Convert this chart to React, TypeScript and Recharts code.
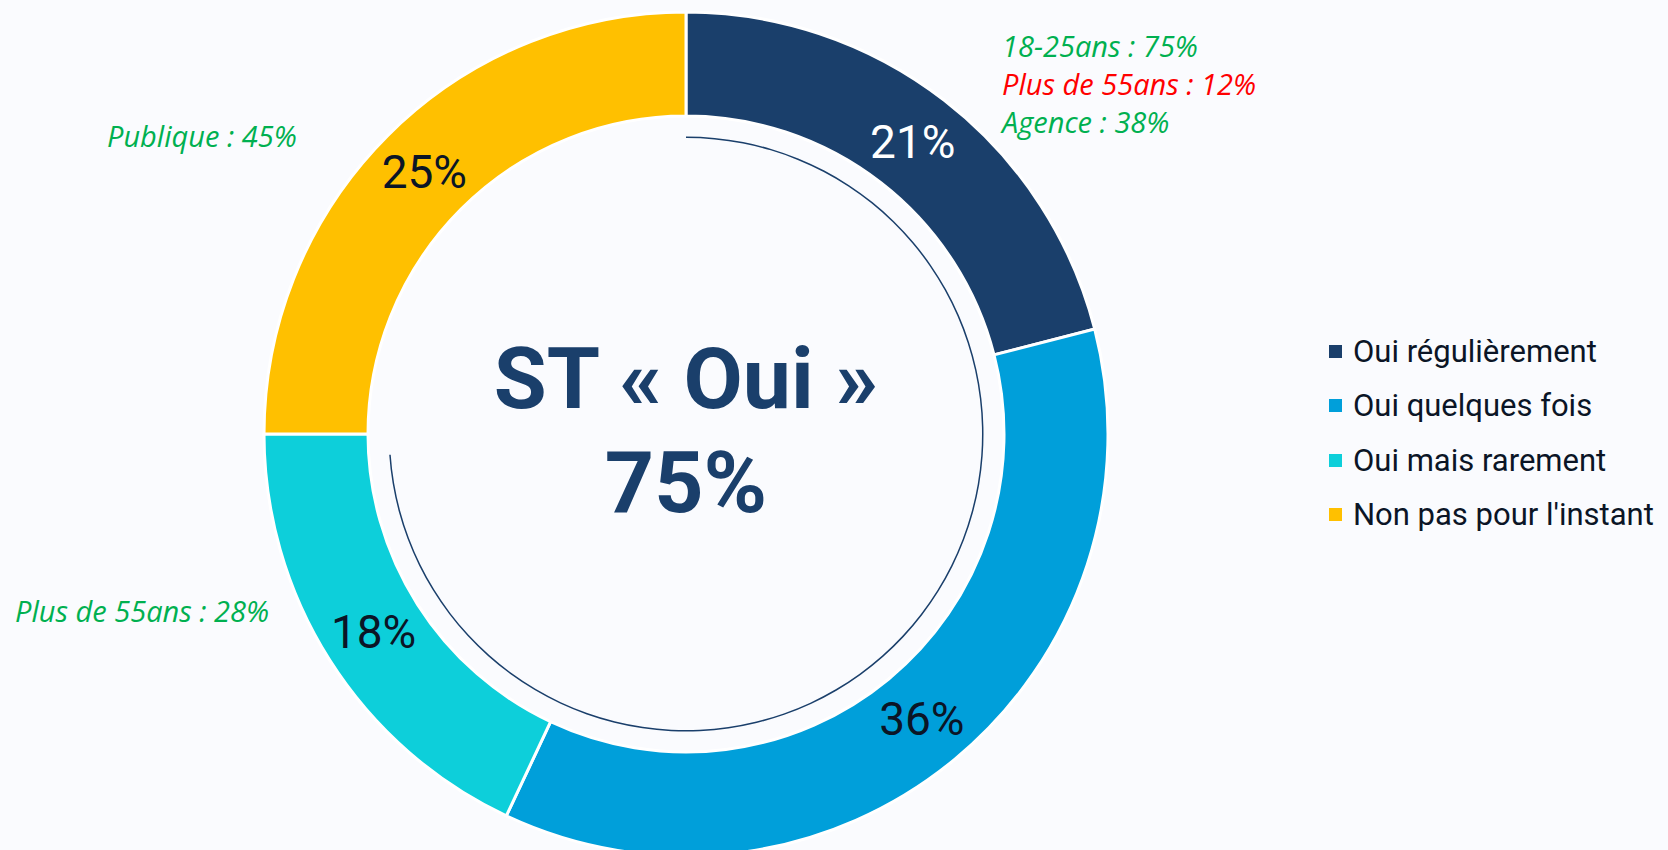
import { PieChart, Pie, Cell, Legend } from 'recharts';

const categories = ['Oui régulièrement', 'Oui quelques fois', 'Oui mais rarement', "Non pas pour l'instant"];
const values = [21, 36, 18, 25];
const colors = ['#1a3f6b', '#009fda', '#0dcfda', '#ffc000'];
const labelColors = ['#ffffff', '#0b1526', '#0b1526', '#0b1526'];
const totalOui = [75];

const notesRight = [
  { text: '18-25ans : 75%', color: '#00b050' },
  { text: 'Plus de 55ans : 12%', color: '#ff0000' },
  { text: 'Agence : 38%', color: '#00b050' },
];
const noteTopLeft = { text: 'Publique : 45%', color: '#00b050' };
const noteBottomLeft = { text: 'Plus de 55ans : 28%', color: '#00b050' };

const data = categories.map((name, i) => ({ name, value: values[i], color: colors[i] }));
const arcData = totalOui.map((v) => ({ name: 'ST Oui', value: v }));

const RADIAN = Math.PI / 180;
const CX = 686;
const CY = 434;

const renderLabel = (props: any) => {
  const { cx, cy, midAngle, innerRadius, outerRadius, index, value } = props;
  const r = (innerRadius + outerRadius) / 2;
  const x = cx + r * Math.cos(-midAngle * RADIAN);
  const y = cy + r * Math.sin(-midAngle * RADIAN);
  return (
    <text
      x={x}
      y={y}
      fill={labelColors[index]}
      textAnchor="middle"
      dominantBaseline="central"
      fontFamily="Roboto"
      fontSize={46}
    >
      {`${value}%`}
    </text>
  );
};

const CustomLegend = () => (
  <div style={{ fontFamily: 'Roboto', fontSize: 31, color: '#0b1526' }}>
    {data.map((d) => (
      <div key={d.name} style={{ display: 'flex', alignItems: 'center', height: 54.5 }}>
        <span style={{ width: 13, height: 13, background: d.color, marginRight: 11, display: 'inline-block' }} />
        <span>{d.name}</span>
      </div>
    ))}
  </div>
);

const noteStyle = { fontFamily: 'Open Sans', fontStyle: 'italic', fontSize: 29 } as const;

const App = () => {
  return (
    <div style={{ position: 'fixed', left: 0, top: 0, width: 1668, height: 850, background: '#fafbfe', overflow: 'hidden' }}>
      <PieChart width={1668} height={850} margin={{ top: 0, right: 0, bottom: 0, left: 0 }}>
        <Pie
          data={data}
          dataKey="value"
          nameKey="name"
          cx={CX}
          cy={CY}
          startAngle={90}
          endAngle={-270}
          innerRadius={318}
          outerRadius={422}
          stroke="#ffffff"
          strokeWidth={3}
          label={renderLabel}
          labelLine={false}
          isAnimationActive={false}
        >
          {data.map((entry, index) => (
            <Cell key={`cell-${index}`} fill={entry.color} />
          ))}
        </Pie>
        <Pie
          data={arcData}
          dataKey="value"
          cx={CX}
          cy={CY}
          startAngle={90}
          endAngle={-176}
          innerRadius={296}
          outerRadius={297.5}
          fill="#1a3f6b"
          stroke="none"
          legendType="none"
          isAnimationActive={false}
        />
        <Legend
          content={<CustomLegend />}
          wrapperStyle={{ position: 'absolute', left: 1329, top: 324, width: 340 }}
        />
      </PieChart>
      <svg width={1668} height={850} style={{ position: 'absolute', left: 0, top: 0, pointerEvents: 'none' }}>
        <text x={CX} y={408} textAnchor="middle" fontFamily="Roboto" fontWeight={700} fontSize={86} fill="#1a3f6b">
          ST « Oui »
        </text>
        <text x={CX} y={512} textAnchor="middle" fontFamily="Roboto" fontWeight={700} fontSize={86} fill="#1a3f6b">
          {`${totalOui[0]}%`}
        </text>
        {notesRight.map((n, i) => (
          <text key={n.text} x={1002} y={57 + i * 38} fill={n.color} {...noteStyle}>
            {n.text}
          </text>
        ))}
        <text x={107} y={147} fill={noteTopLeft.color} {...noteStyle}>
          {noteTopLeft.text}
        </text>
        <text x={15} y={622} fill={noteBottomLeft.color} {...noteStyle}>
          {noteBottomLeft.text}
        </text>
      </svg>
    </div>
  );
};

export default App;
